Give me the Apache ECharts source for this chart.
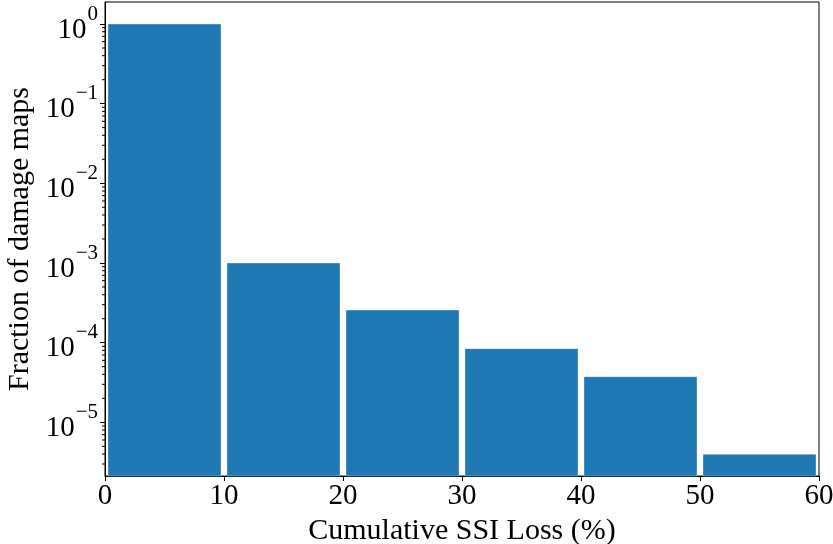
<!DOCTYPE html>
<html>
<head>
<meta charset="utf-8">
<script src="https://cdn.jsdelivr.net/npm/echarts@6/dist/echarts.min.js"></script>
<style>html,body{margin:0;padding:0;background:#fff}#c{width:833px;height:544px}</style>
</head>
<body>
<div id="c"></div>
<script>
// Data
const binEdges = [0, 10, 20, 30, 40, 50, 60];
const fractions = [0.9986, 1.0e-3, 2.57e-4, 8.4e-5, 3.74e-5, 3.97e-6];
const xTicks = [0, 10, 20, 30, 40, 50, 60];
const yMin = 2.12e-6, yMax = 1.888;
const relWidth = 0.95;

const barData = fractions.map((v, i) => [binEdges[i], binEdges[i + 1], v]);

// minor tick positions (axis decoration, like matplotlib LogLocator subs)
const minorVals = [];
for (let e = -6; e <= 0; e++) {
  for (let m = 2; m <= 9; m++) {
    const v = m * Math.pow(10, e);
    if (v > yMin && v < yMax) minorVals.push([0, v]);
  }
}

const FONT = '"Liberation Serif", "DejaVu Serif", serif';

const chart = echarts.init(document.getElementById('c'), null, {renderer: 'canvas'});
chart.setOption({
  animation: false,
  grid: {left: 105, right: 14, top: 2, bottom: 68, show: true, borderColor: '#000', borderWidth: 1,
         containLabel: false, outerBoundsMode: 'none'},
  xAxis: {
    type: 'value', min: 0, max: 60, interval: 10,
    name: 'Cumulative SSI Loss (%)', nameLocation: 'middle', nameGap: 33,
    nameTextStyle: {fontFamily: FONT, fontSize: 30, color: '#000'},
    axisLine: {show: true, lineStyle: {color: '#000', width: 1}},
    axisTick: {show: true, inside: false, length: 5, lineStyle: {color: '#000', width: 1}},
    axisLabel: {fontFamily: FONT, fontSize: 29, color: '#000', margin: 6},
    splitLine: {show: false}
  },
  yAxis: {
    type: 'log', logBase: 10, min: yMin, max: yMax,
    name: 'Fraction of damage maps', nameLocation: 'middle', nameGap: 62,
    nameTextStyle: {fontFamily: FONT, fontSize: 30, color: '#000'},
    axisLine: {show: true, lineStyle: {color: '#000', width: 1}},
    axisTick: {show: true, inside: false, length: 5, lineStyle: {color: '#000', width: 1}},
    splitLine: {show: false},
    axisLabel: {
      margin: 7, showMinLabel: false, showMaxLabel: false,
      formatter: function (v) {
        const l = Math.log10(v);
        const e = Math.round(l);
        if (Math.abs(l - e) > 1e-6) return '';
        const s = e < 0 ? '\u2212' + (-e) : String(e);
        return '{b|10}{s|' + s + '}';
      },
      rich: {
        b: {fontFamily: FONT, fontSize: 29, color: '#000', padding: [12, 0, 0, 0]},
        s: {fontFamily: FONT, fontSize: 21, color: '#000', verticalAlign: 'top', padding: [0, 0, 0, 1]}
      }
    }
  },
  series: [
    {
      type: 'custom',
      data: barData,
      encode: {x: [0, 1], y: 2},
      renderItem: function (params, api) {
        const x0 = api.value(0), x1 = api.value(1), v = api.value(2);
        const pad = (x1 - x0) * (1 - relWidth) / 2;
        const pTop = api.coord([x0 + pad, v]);
        const pRight = api.coord([x1 - pad, v]);
        const bottom = params.coordSys.y + params.coordSys.height;
        return {
          type: 'rect',
          shape: {x: pTop[0], y: pTop[1], width: pRight[0] - pTop[0], height: bottom - pTop[1]},
          style: {fill: '#1f77b4', stroke: 'rgba(255,255,255,0.35)', lineWidth: 1}
        };
      },
      z: 2
    },
    {
      type: 'custom',
      data: minorVals,
      clip: false,
      silent: true,
      renderItem: function (params, api) {
        const p = api.coord([api.value(0), api.value(1)]);
        const left = params.coordSys.x;
        return {
          type: 'line',
          shape: {x1: left - 3, y1: p[1], x2: left, y2: p[1]},
          style: {stroke: '#000', lineWidth: 1}
        };
      },
      z: 3
    }
  ]
});
</script>
</body>
</html>
